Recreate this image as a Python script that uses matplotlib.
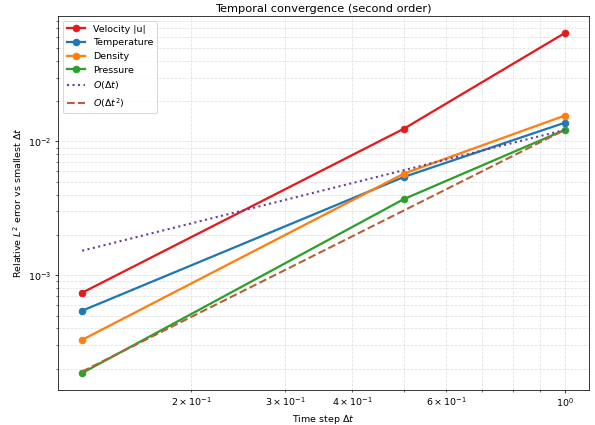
import matplotlib
matplotlib.use('Agg')
import matplotlib.pyplot as plt
import numpy as np

dt = [0.125, 0.5, 1.0]
err_vel = [7.4e-4, 1.245e-2, 6.46e-2]
err_temp = [5.43e-4, 5.43e-3, 1.38e-2]
err_rho = [3.29e-4, 5.75e-3, 1.56e-2]
err_p = [1.86e-4, 3.71e-3, 1.22e-2]

dt_a = np.array(dt)
# reference slopes anchored at the pressure error for the largest step
ref1 = err_p[-1] * (dt_a / dt_a[-1])
ref2 = err_p[-1] * (dt_a / dt_a[-1]) ** 2

fig, ax = plt.subplots(figsize=(8.75, 6.25), dpi=68)
fig.subplots_adjust(left=58/595, right=589/595, top=1-16/425, bottom=1-390/425)

ax.loglog(dt, err_vel, 'o-', color='#e41a1c', lw=2.4, ms=7, label='Velocity |u|')
ax.loglog(dt, err_temp, 'o-', color='#1f77b4', lw=2.4, ms=7, label='Temperature')
ax.loglog(dt, err_rho, 'o-', color='#ff7f0e', lw=2.4, ms=7, label='Density')
ax.loglog(dt, err_p, 'o-', color='#2ca02c', lw=2.4, ms=7, label='Pressure')
ax.loglog(dt_a, ref1, ':', color='#6a3d9a', lw=2.2, label=r'$O(\Delta t)$')
ax.loglog(dt_a, ref2, '--', color='#b5603a', lw=2.2, label=r'$O(\Delta t^2)$')

ax.grid(True, which='both', ls='--', color='#d9d9d9', alpha=0.8)
ax.set_xlabel(r'Time step $\Delta t$')
ax.set_ylabel(r'Relative $L^2$ error vs smallest $\Delta t$')
ax.set_title('Temporal convergence (second order)', pad=4)
ax.legend(loc='upper left')

plt.savefig('out.png')
